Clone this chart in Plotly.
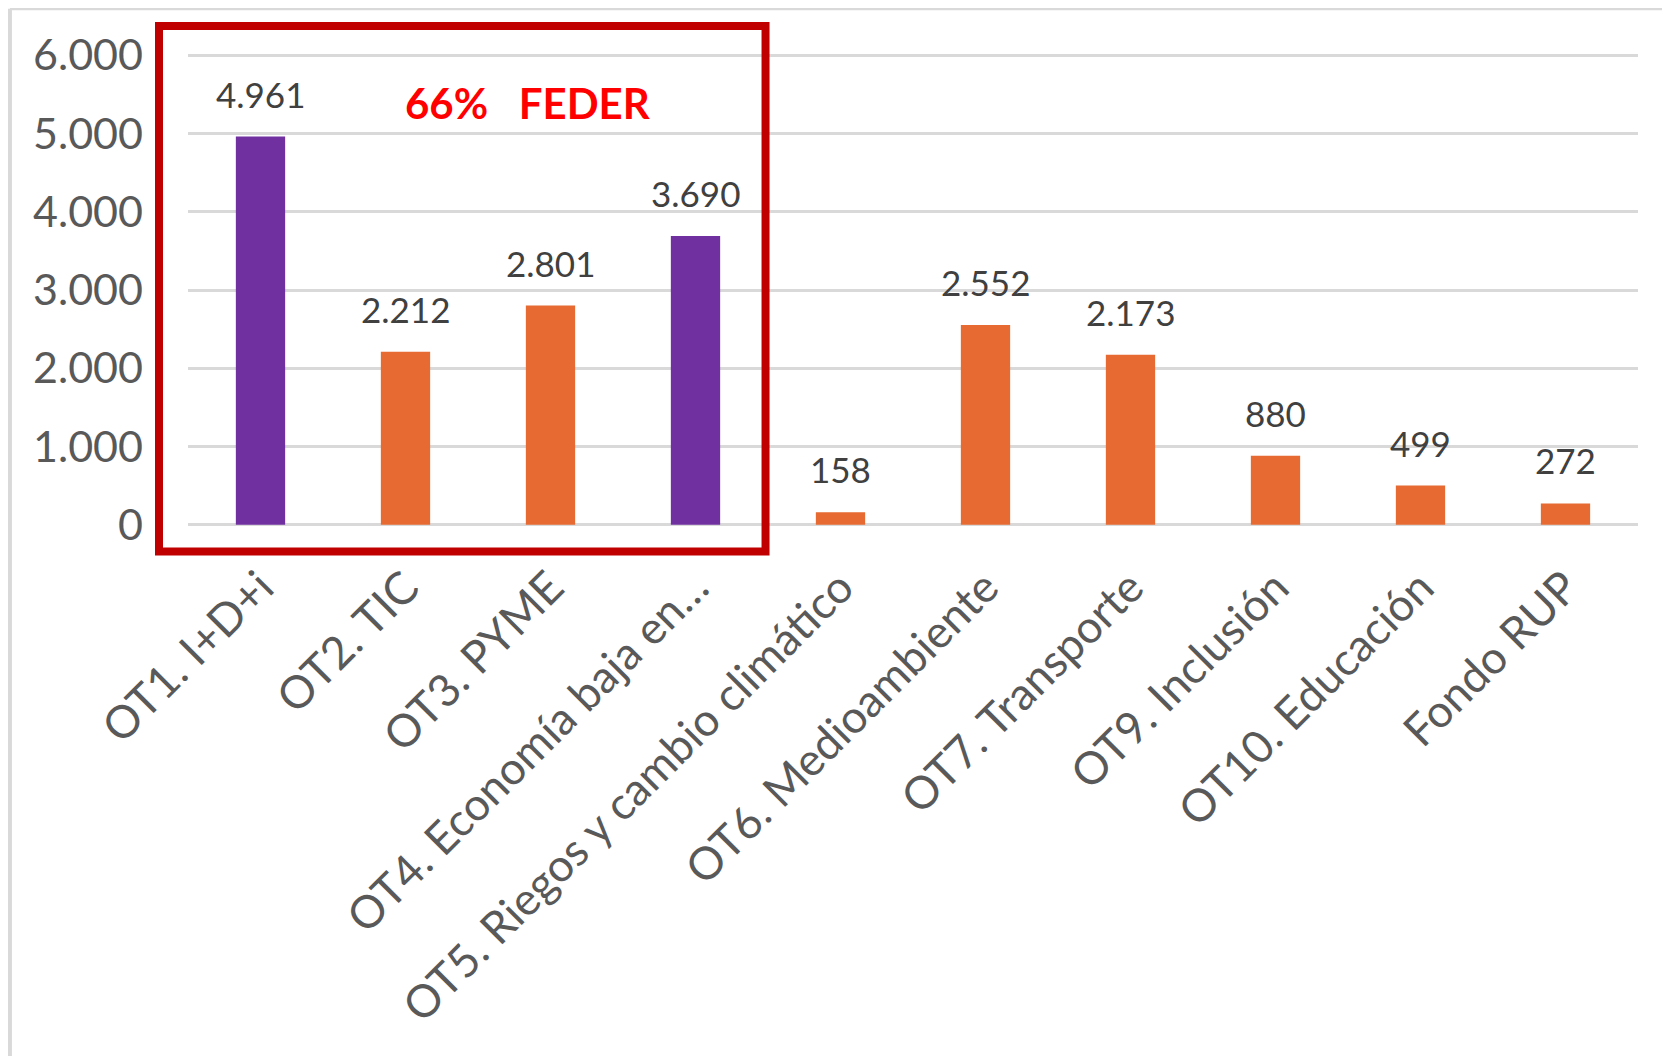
import plotly.graph_objects as go

categorias = ['OT1. I+D+i', 'OT2. TIC', 'OT3. PYME', 'OT4. Economía baja en…',
              'OT5. Riegos y cambio climático', 'OT6. Medioambiente', 'OT7. Transporte',
              'OT9. Inclusión', 'OT10. Educación', 'Fondo RUP']
valores = [4961, 2212, 2801, 3690, 158, 2552, 2173, 880, 499, 272]
destacados = [True, False, False, True, False, False, False, False, False, False]
ticks_y = [0, 1000, 2000, 3000, 4000, 5000, 6000]

morado = '#7030A0'
naranja = '#E66A32'
gris_txt = '#595959'
font = 'Lato, "Open Sans", sans-serif'

colores = [morado if d else naranja for d in destacados]

fig = go.Figure()
fig.add_trace(go.Bar(x=categorias, y=valores, marker=dict(color=colores, line=dict(width=0)),
                     hoverinfo='x+y'))

# etiquetas de datos por encima de cada barra
for cat, v in zip(categorias, valores):
    fig.add_annotation(x=cat, y=v, text=f'{v:,}'.replace(',', '.'), showarrow=False,
                       yanchor='middle', yshift=43,
                       font=dict(family=font, size=35, color='#404040'))

fig.add_annotation(xref='paper', yref='paper', x=0.2345, y=0.895, text='<b>66%   FEDER</b>',
                   showarrow=False, xanchor='center', yanchor='middle',
                   font=dict(family=font, size=42, color='#FF0000'))

# recuadro rojo y borde del grafico
fig.add_shape(type='rect', xref='paper', yref='paper', x0=-0.02, x1=0.3983, y0=-0.0515, y1=1.057,
              line=dict(color='#C00000', width=8))
fig.add_shape(type='line', xref='paper', yref='paper', x0=-0.1228, x1=1.05, y0=1.0931, y1=1.0931,
              line=dict(color='#D9D9D9', width=3))
fig.add_shape(type='line', xref='paper', yref='paper', x0=-0.1228, x1=-0.1228, y0=1.0931, y1=-1.2,
              line=dict(color='#D9D9D9', width=4))

fig.update_layout(
    width=1662, height=1048,
    margin=dict(l=180, r=32, t=45, b=529),
    plot_bgcolor='white', paper_bgcolor='white',
    separators=',.',
    bargap=0.66,
    showlegend=False,
    font=dict(family=font, color=gris_txt),
    xaxis=dict(tickangle=-45, tickfont=dict(size=45, color=gris_txt), showgrid=False,
               showline=False, ticks='', ticklabelstandoff=24, automargin=False),
    yaxis=dict(range=[-30, 6030], tickvals=ticks_y, tickformat=',d',
               tickfont=dict(size=43, color=gris_txt), showgrid=True, gridcolor='#D9D9D9',
               gridwidth=3, zeroline=True, zerolinecolor='#D9D9D9', zerolinewidth=3,
               showline=False, ticks='', ticklabelstandoff=44, automargin=False),
)

fig.write_html('out.html')
